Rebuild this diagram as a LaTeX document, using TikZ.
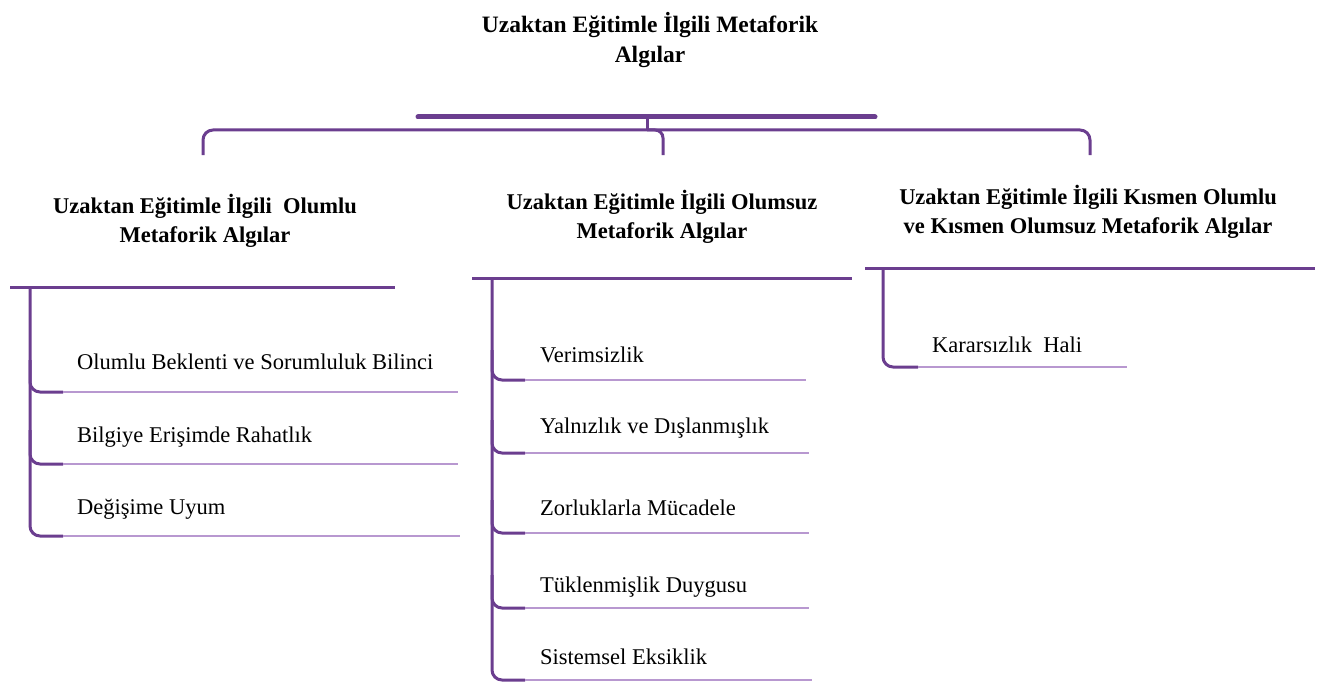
\documentclass[tikz,border=0pt]{standalone}
\usepackage{fontspec}
\setmainfont{LiberationSerif}[Extension=.ttf,UprightFont=*-Regular,BoldFont=*-Bold,ItalicFont=*-Italic,BoldItalicFont=*-BoldItalic]
\definecolor{mor}{RGB}{107,62,143}
\definecolor{acikmor}{RGB}{184,152,208}

\begin{document}
\begin{tikzpicture}[x=1pt,y=-1pt]
\tikzset{
  baslik/.style={font=\fontsize{22.5}{29}\selectfont\bfseries,align=center,inner sep=0},
  madde/.style={font=\fontsize{22.5}{28}\selectfont,anchor=west,inner sep=0},
  cizgi/.style={mor,line width=3pt},
  dal/.style={mor,line width=3pt,rounded corners=10pt},
  ince/.style={acikmor,line width=2.5pt}
}
\useasboundingbox(0,0)rectangle(1322,682);
% title and bracket
\node[baslik,font=\fontsize{23.5}{30}\selectfont\bfseries](T)at(650,40){Uzaktan Eğitimle İlgili Metaforik\\Algılar};
\coordinate(T1)at(418,117);
\coordinate(T2)at(875,117);
\coordinate(T3)at(647,117);
\coordinate(T4)at(647,130);
\coordinate(K1)at(203,155);
\coordinate(K2)at(1090,130);
\coordinate(K3)at(1090,155);
\coordinate(K4)at(663,155);
\draw[mor,line width=5pt,line cap=round](T1)--(T2);
\draw[cizgi](T3)--(T4);
\draw[dal](K1)|-(K2)--(K3);
\draw[dal,rounded corners=8pt](T4)-|(K4);
% headings
\node[baslik](H1)at(205,221){Uzaktan Eğitimle İlgili\ \ Olumlu\\Metaforik Algılar};
\node[baslik](H2)at(662,217){Uzaktan Eğitimle İlgili Olumsuz\\Metaforik Algılar};
\node[baslik](H3)at(1088,212){Uzaktan Eğitimle İlgili Kısmen Olumlu\\ve Kısmen Olumsuz Metaforik Algılar};
% left column
\coordinate(S1)at(10,287);
\coordinate(S2)at(395,287);
\coordinate(S3)at(30,287);
\draw[cizgi](S1)--(S2);
\coordinate(L1)at(63,392);
\coordinate(L2)at(63,464);
\coordinate(L3)at(63,536);
\coordinate(L1e)at(458,392);
\coordinate(L2e)at(458,464);
\coordinate(L3e)at(460,536);
\draw[dal](S3)|-(L3);
\draw[dal](30,360)|-(L1);
\draw[dal](30,430)|-(L2);
\draw[ince](L1)--(L1e);
\draw[ince](L2)--(L2e);
\draw[ince](L3)--(L3e);
\node[madde](A1)at(77,362){Olumlu Beklenti ve Sorumluluk Bilinci};
\node[madde](A2)at(77,437){Bilgiye Erişimde Rahatlık};
\node[madde](A3)at(77,509){Değişime Uyum};
% middle column
\coordinate(S4)at(472,278);
\coordinate(S5)at(852,278);
\coordinate(S6)at(492,278);
\draw[cizgi](S4)--(S5);
\coordinate(M1)at(525,380);
\coordinate(M2)at(525,453);
\coordinate(M3)at(525,533);
\coordinate(M4)at(525,608);
\coordinate(M5)at(525,680);
\coordinate(M1e)at(806,380);
\coordinate(M2e)at(809,453);
\coordinate(M3e)at(809,533);
\coordinate(M4e)at(809,608);
\coordinate(M5e)at(812,680);
\draw[dal](S6)|-(M5);
\draw[dal](492,350)|-(M1);
\draw[dal](492,420)|-(M2);
\draw[dal](492,500)|-(M3);
\draw[dal](492,575)|-(M4);
\draw[ince](M1)--(M1e);
\draw[ince](M2)--(M2e);
\draw[ince](M3)--(M3e);
\draw[ince](M4)--(M4e);
\draw[ince](M5)--(M5e);
\node[madde](B1)at(540,355){Verimsizlik};
\node[madde](B2)at(540,428){Yalnızlık ve Dışlanmışlık};
\node[madde](B3)at(540,508){Zorluklarla Mücadele};
\node[madde](B4)at(540,587){Tüklenmişlik Duygusu};
\node[madde](B5)at(540,657){Sistemsel Eksiklik};
% right column
\coordinate(S7)at(865,268);
\coordinate(S8)at(1315,268);
\coordinate(S9)at(883,268);
\draw[cizgi](S7)--(S8);
\coordinate(R1)at(918,367);
\coordinate(R1e)at(1127,367);
\draw[dal](S9)|-(R1);
\draw[ince](R1)--(R1e);
\node[madde](C1)at(932,345){Kararsızlık\ \ Hali};
\end{tikzpicture}
\end{document}
